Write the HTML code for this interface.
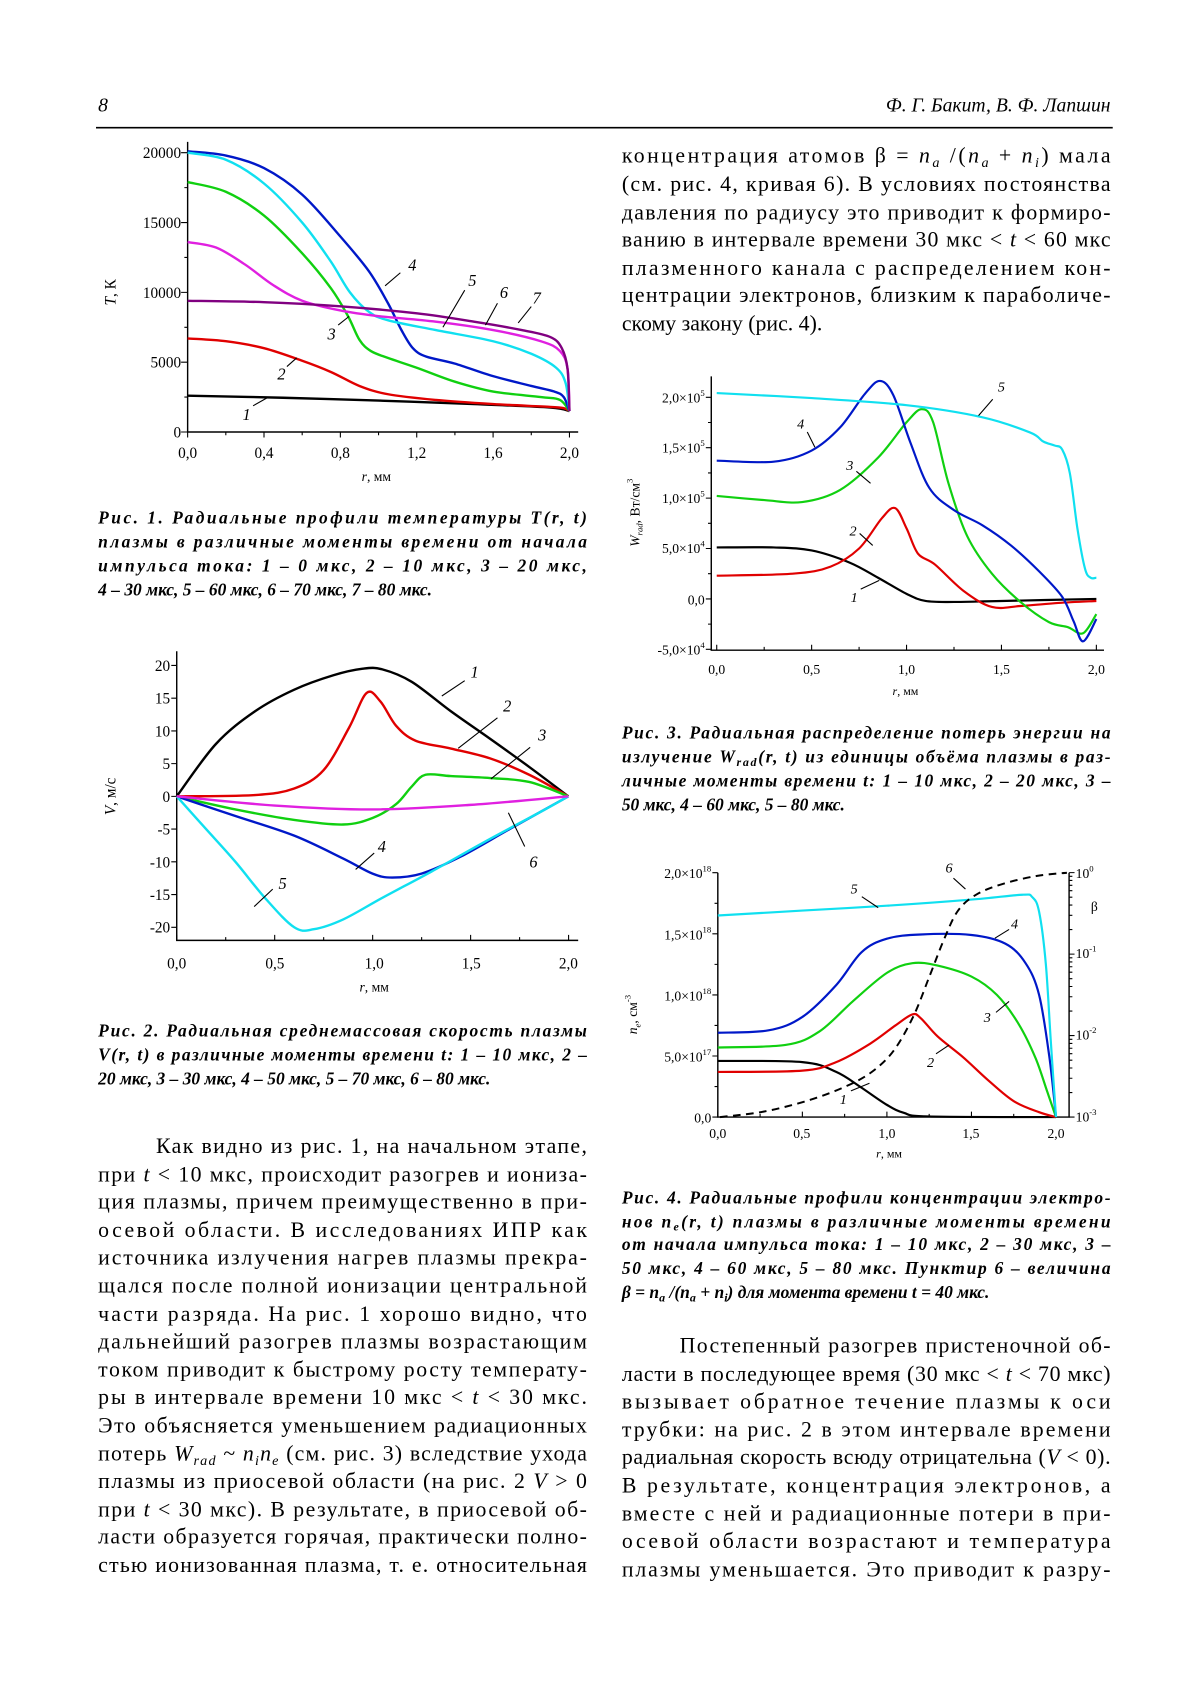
<!DOCTYPE html>
<html><head><meta charset="utf-8">
<style>
html,body{margin:0;padding:0;background:#fff;}
svg{display:block;}
text{font-family:"Liberation Serif","DejaVu Serif",serif;fill:#000;}
.b{font-size:20px;}
.c{font-size:16px;font-weight:bold;font-style:italic;}
.t{font-size:14px;}
.s{font-size:12.5px;}
.n{font-size:15px;font-style:italic;}
.ax{stroke:#000;stroke-width:1.3;fill:none;}
.ld{stroke:#000;stroke-width:1;fill:none;}
</style></head>
<body>
<svg id="pg" width="1200" height="1698" viewBox="0 0 1100 1556.5" xmlns="http://www.w3.org/2000/svg">
<text x="90" y="102" class="b" style="font-style:italic;font-size:18px">8</text>
<text x="1018" y="102" class="b" text-anchor="end" style="font-style:italic;font-size:18px">Ф. Г. Бакит, В. Ф. Лапшин</text>
<line x1="88" y1="117" x2="1020" y2="117" stroke="#000" stroke-width="1.5"/>

<g class="b">
<text x="570" y="149" textLength="448" lengthAdjust="spacing">концентрация атомов β = <tspan font-style="italic">n</tspan><tspan font-style="italic" font-size="13" dy="4">a</tspan><tspan dy="-4"> /(</tspan><tspan font-style="italic">n</tspan><tspan font-style="italic" font-size="13" dy="4">a</tspan><tspan dy="-4"> + </tspan><tspan font-style="italic">n</tspan><tspan font-style="italic" font-size="13" dy="4">i</tspan><tspan dy="-4">) мала</tspan></text>
<text x="570" y="175" textLength="448" lengthAdjust="spacing">(см. рис. 4, кривая 6). В условиях постоянства</text>
<text x="570" y="201" textLength="448" lengthAdjust="spacing">давления по радиусу это приводит к формиро-</text>
<text x="570" y="226" textLength="448" lengthAdjust="spacing">ванию в интервале времени 30 мкс &lt; <tspan font-style="italic">t</tspan> &lt; 60 мкс</text>
<text x="570" y="252" textLength="448" lengthAdjust="spacing">плазменного канала с распределением кон-</text>
<text x="570" y="277" textLength="448" lengthAdjust="spacing">центрации электронов, близким к параболиче-</text>
<text x="570" y="303">скому закону (рис. 4).</text>
</g>

<g class="b">
<text x="143" y="1057" textLength="395" lengthAdjust="spacing">Как видно из рис. 1, на начальном этапе,</text>
<text x="90" y="1083" textLength="448" lengthAdjust="spacing">при <tspan font-style="italic">t</tspan> &lt; 10 мкс, происходит разогрев и иониза-</text>
<text x="90" y="1108" textLength="448" lengthAdjust="spacing">ция плазмы, причем преимущественно в при-</text>
<text x="90" y="1134" textLength="448" lengthAdjust="spacing">осевой области. В исследованиях ИПР как</text>
<text x="90" y="1159" textLength="448" lengthAdjust="spacing">источника излучения нагрев плазмы прекра-</text>
<text x="90" y="1185" textLength="448" lengthAdjust="spacing">щался после полной ионизации центральной</text>
<text x="90" y="1211" textLength="448" lengthAdjust="spacing">части разряда. На рис. 1 хорошо видно, что</text>
<text x="90" y="1236" textLength="448" lengthAdjust="spacing">дальнейший разогрев плазмы возрастающим</text>
<text x="90" y="1262" textLength="448" lengthAdjust="spacing">током приводит к быстрому росту температу-</text>
<text x="90" y="1287" textLength="448" lengthAdjust="spacing">ры в интервале времени 10 мкс &lt; <tspan font-style="italic">t</tspan> &lt; 30 мкс.</text>
<text x="90" y="1313" textLength="448" lengthAdjust="spacing">Это объясняется уменьшением радиационных</text>
<text x="90" y="1339" textLength="448" lengthAdjust="spacing">потерь <tspan font-style="italic">W</tspan><tspan font-style="italic" font-size="13" dy="4">rad</tspan><tspan dy="-4"> ~ </tspan><tspan font-style="italic">n</tspan><tspan font-style="italic" font-size="13" dy="4">i</tspan><tspan font-style="italic" dy="-4">n</tspan><tspan font-style="italic" font-size="13" dy="4">e</tspan><tspan dy="-4"> (см. рис. 3) вследствие ухода</tspan></text>
<text x="90" y="1364" textLength="448" lengthAdjust="spacing">плазмы из приосевой области (на рис. 2 <tspan font-style="italic">V</tspan> &gt; 0</text>
<text x="90" y="1390" textLength="448" lengthAdjust="spacing">при <tspan font-style="italic">t</tspan> &lt; 30 мкс). В результате, в приосевой об-</text>
<text x="90" y="1415" textLength="448" lengthAdjust="spacing">ласти образуется горячая, практически полно-</text>
<text x="90" y="1441" textLength="448" lengthAdjust="spacing">стью ионизованная плазма, т. е. относительная</text>
</g>

<g class="b">
<text x="623" y="1240" textLength="395" lengthAdjust="spacing">Постепенный разогрев пристеночной об-</text>
<text x="570" y="1266" textLength="448" lengthAdjust="spacing">ласти в последующее время (30 мкс &lt; <tspan font-style="italic">t</tspan> &lt; 70 мкс)</text>
<text x="570" y="1291" textLength="448" lengthAdjust="spacing">вызывает обратное течение плазмы к оси</text>
<text x="570" y="1317" textLength="448" lengthAdjust="spacing">трубки: на рис. 2 в этом интервале времени</text>
<text x="570" y="1342" textLength="448" lengthAdjust="spacing">радиальная скорость всюду отрицательна (<tspan font-style="italic">V</tspan> &lt; 0).</text>
<text x="570" y="1368" textLength="448" lengthAdjust="spacing">В результате, концентрация электронов, а</text>
<text x="570" y="1394" textLength="448" lengthAdjust="spacing">вместе с ней и радиационные потери в при-</text>
<text x="570" y="1419" textLength="448" lengthAdjust="spacing">осевой области возрастают и температура</text>
<text x="570" y="1445" textLength="448" lengthAdjust="spacing">плазмы уменьшается. Это приводит к разру-</text>
</g>

<g class="c">
<text x="90" y="480" textLength="448" lengthAdjust="spacing">Рис. 1. Радиальные профили температуры T(r, t)</text>
<text x="90" y="502" textLength="448" lengthAdjust="spacing">плазмы в различные моменты времени от начала</text>
<text x="90" y="524" textLength="448" lengthAdjust="spacing">импульса тока: 1 – 0 мкс, 2 – 10 мкс, 3 – 20 мкс,</text>
<text x="90" y="546">4 – 30 мкс, 5 – 60 мкс, 6 – 70 мкс, 7 – 80 мкс.</text>

<text x="90" y="950" textLength="448" lengthAdjust="spacing">Рис. 2. Радиальная среднемассовая скорость плазмы</text>
<text x="90" y="972" textLength="448" lengthAdjust="spacing">V(r, t) в различные моменты времени t: 1 – 10 мкс, 2 –</text>
<text x="90" y="994">20 мкс, 3 – 30 мкс, 4 – 50 мкс, 5 – 70 мкс, 6 – 80 мкс.</text>

<text x="570" y="677" textLength="448" lengthAdjust="spacing">Рис. 3. Радиальная распределение потерь энергии на</text>
<text x="570" y="699" textLength="448" lengthAdjust="spacing">излучение W<tspan font-size="11" dy="3">rad</tspan><tspan dy="-3">(r, t) из единицы объёма плазмы в раз-</tspan></text>
<text x="570" y="721" textLength="448" lengthAdjust="spacing">личные моменты времени t: 1 – 10 мкс, 2 – 20 мкс, 3 –</text>
<text x="570" y="743">50 мкс, 4 – 60 мкс, 5 – 80 мкс.</text>

<text x="570" y="1103" textLength="448" lengthAdjust="spacing">Рис. 4. Радиальные профили концентрации электро-</text>
<text x="570" y="1125" textLength="448" lengthAdjust="spacing">нов n<tspan font-size="11" dy="3">e</tspan><tspan dy="-3">(r, t) плазмы в различные моменты времени</tspan></text>
<text x="570" y="1146" textLength="448" lengthAdjust="spacing">от начала импульса тока: 1 – 10 мкс, 2 – 30 мкс, 3 –</text>
<text x="570" y="1168" textLength="448" lengthAdjust="spacing">50 мкс, 4 – 60 мкс, 5 – 80 мкс. Пунктир 6 – величина</text>
<text x="570" y="1190">β = n<tspan font-size="11" dy="3">a</tspan><tspan dy="-3"> /(n</tspan><tspan font-size="11" dy="3">a</tspan><tspan dy="-3"> + n</tspan><tspan font-size="11" dy="3">i</tspan><tspan dy="-3">) для момента времени t = 40 мкс.</tspan></text>
</g>

<!-- FIG 1 -->
<path class="ax" d="M172,130 V396 H530"/>
<g class="t" text-anchor="end">
<text x="166" y="145">20000</text><text x="166" y="209">15000</text><text x="166" y="273">10000</text><text x="166" y="337">5000</text><text x="166" y="401">0</text>
</g>
<g class="t" text-anchor="middle">
<text x="172" y="420">0,0</text><text x="242" y="420">0,4</text><text x="312" y="420">0,8</text><text x="382" y="420">1,2</text><text x="452" y="420">1,6</text><text x="522" y="420">2,0</text>
<text x="345" y="441" class="s"><tspan font-style="italic">r</tspan>, мм</text>
</g>
<text transform="translate(106,268) rotate(-90)" class="t" text-anchor="middle"><tspan font-style="italic">T</tspan>, К</text>
<g id="f1t"></g>
<g id="f1c" fill="none" stroke-width="2.2"></g>
<g class="n" text-anchor="middle">
<text x="226" y="385">1</text><text x="258" y="348">2</text><text x="304" y="311">3</text><text x="378" y="248">4</text><text x="433" y="262">5</text><text x="462" y="273">6</text><text x="492" y="278">7</text>
</g>
<path class="ld" d="M232,372 L246,364 M263,336 L272,328 M310,298 L320,290 M353,262 L367,250 M406,300 L426,266 M445,298 L456,278 M475,296 L487,281"/>

<!-- FIG 2 -->
<path class="ax" d="M162,597 V862 H530"/>
<g class="t" text-anchor="end">
<text x="156" y="615">20</text><text x="156" y="645">15</text><text x="156" y="675">10</text><text x="156" y="705">5</text><text x="156" y="735">0</text><text x="156" y="765">-5</text><text x="156" y="795">-10</text><text x="156" y="825">-15</text><text x="156" y="855">-20</text>
</g>
<g class="t" text-anchor="middle">
<text x="162" y="888">0,0</text><text x="252" y="888">0,5</text><text x="343" y="888">1,0</text><text x="432" y="888">1,5</text><text x="521" y="888">2,0</text>
<text x="343" y="909" class="s"><tspan font-style="italic">r</tspan>, мм</text>
</g>
<text transform="translate(106,730) rotate(-90)" class="t" text-anchor="middle"><tspan font-style="italic">V</tspan>, м/с</text>
<g id="f2t"></g>
<g id="f2c" fill="none" stroke-width="2.2"></g>
<g class="n" text-anchor="middle">
<text x="435" y="621">1</text><text x="465" y="652">2</text><text x="497" y="679">3</text><text x="350" y="781">4</text><text x="259" y="815">5</text><text x="489" y="795">6</text>
</g>
<path class="ld" d="M405,638 L426,624 M420,686 L456,658 M450,714 L486,685 M326,797 L343,782 M233,831 L250,815 M466,745 L481,776"/>

<!-- FIG 3 -->
<path class="ax" d="M652,345 V596 H1012"/>
<g class="s" text-anchor="end">
<text x="646" y="369">2,0×10<tspan font-size="8" dy="-6">5</tspan></text>
<text x="646" y="415">1,5×10<tspan font-size="8" dy="-6">5</tspan></text>
<text x="646" y="461">1,0×10<tspan font-size="8" dy="-6">5</tspan></text>
<text x="646" y="507">5,0×10<tspan font-size="8" dy="-6">4</tspan></text>
<text x="646" y="554">0,0</text>
<text x="646" y="600">-5,0×10<tspan font-size="8" dy="-6">4</tspan></text>
</g>
<g class="s" text-anchor="middle">
<text x="657" y="618">0,0</text><text x="744" y="618">0,5</text><text x="831" y="618">1,0</text><text x="918" y="618">1,5</text><text x="1005" y="618">2,0</text>
<text x="830" y="637" style="font-size:11px"><tspan font-style="italic">r</tspan>, мм</text>
</g>
<text transform="translate(586,470) rotate(-90)" class="s" text-anchor="middle"><tspan font-style="italic">W</tspan><tspan font-style="italic" font-size="8" dy="3">rad</tspan><tspan dy="-3">, Вт/см</tspan><tspan font-size="8" dy="-6">3</tspan></text>
<g id="f3t"></g>
<g id="f3c" fill="none" stroke-width="2"></g>
<g class="n" text-anchor="middle" style="font-size:13px">
<text x="783" y="552">1</text><text x="782" y="491">2</text><text x="779" y="431">3</text><text x="734" y="393">4</text><text x="918" y="359">5</text>
</g>
<path class="ld" d="M789,540 L806,532 M788,489 L800,500 M785,432 L798,443 M740,396 L747,410 M910,366 L897,381"/>

<!-- FIG 4 -->
<path class="ax" d="M658,800 V1024 H980 V800"/>
<g class="s" text-anchor="end">
<text x="652" y="805">2,0×10<tspan font-size="8" dy="-6">18</tspan></text>
<text x="652" y="861">1,5×10<tspan font-size="8" dy="-6">18</tspan></text>
<text x="652" y="917">1,0×10<tspan font-size="8" dy="-6">18</tspan></text>
<text x="652" y="973">5,0×10<tspan font-size="8" dy="-6">17</tspan></text>
<text x="652" y="1029">0,0</text>
</g>
<g class="s">
<text x="986" y="805">10<tspan font-size="8" dy="-6">0</tspan></text>
<text x="1000" y="835">β</text>
<text x="986" y="878">10<tspan font-size="8" dy="-6">-1</tspan></text>
<text x="986" y="953">10<tspan font-size="8" dy="-6">-2</tspan></text>
<text x="986" y="1028">10<tspan font-size="8" dy="-6">-3</tspan></text>
</g>
<g class="s" text-anchor="middle">
<text x="658" y="1043">0,0</text><text x="735" y="1043">0,5</text><text x="813" y="1043">1,0</text><text x="890" y="1043">1,5</text><text x="968" y="1043">2,0</text>
<text x="815" y="1061" style="font-size:11px"><tspan font-style="italic">r</tspan>, мм</text>
</g>
<text transform="translate(584,930) rotate(-90)" class="s" text-anchor="middle"><tspan font-style="italic">n</tspan><tspan font-style="italic" font-size="8" dy="3">e</tspan><tspan dy="-3">, см</tspan><tspan font-size="8" dy="-6">-3</tspan></text>
<g id="f4t"></g>
<g id="f4c" fill="none" stroke-width="2"></g>
<g class="n" text-anchor="middle" style="font-size:13px">
<text x="783" y="819">5</text><text x="930" y="851">4</text><text x="905" y="937">3</text><text x="853" y="978">2</text><text x="773" y="1012">1</text><text x="870" y="800">6</text>
</g>
<path class="ld" d="M790,822 L805,832 M925,852 L912,860 M913,928 L925,918 M858,966 L870,958 M780,1000 L797,993 M874,805 L885,815"/>
</svg>
<script>
(function(){
var NS="http://www.w3.org/2000/svg";
function smooth(p){
 var d="M"+p[0][0].toFixed(1)+","+p[0][1].toFixed(1);
 for(var i=0;i<p.length-1;i++){
  var p0=p[i-1]||p[i],p1=p[i],p2=p[i+1],p3=p[i+2]||p2;
  var c1=[p1[0]+(p2[0]-p0[0])/6,p1[1]+(p2[1]-p0[1])/6];
  var c2=[p2[0]-(p3[0]-p1[0])/6,p2[1]-(p3[1]-p1[1])/6];
  d+="C"+c1[0].toFixed(1)+","+c1[1].toFixed(1)+" "+c2[0].toFixed(1)+","+c2[1].toFixed(1)+" "+p2[0].toFixed(1)+","+p2[1].toFixed(1);
 }
 return d;
}
function add(g,d,col,dash){
 var e=document.createElementNS(NS,"path");
 e.setAttribute("d",d);e.setAttribute("stroke",col);
 if(dash){e.setAttribute("stroke-dasharray","7,5");e.setAttribute("stroke-width","1.8");}
 document.getElementById(g).appendChild(e);
}
function plot(g,X,Y,data,col,dash){
 add(g,smooth(data.map(function(a){return [X(a[0]),Y(a[1])];})),col,dash);
}
function ticks(g,s){var e=document.createElementNS(NS,"path");e.setAttribute("d",s);e.setAttribute("stroke","#000");e.setAttribute("stroke-width","1");document.getElementById(g).appendChild(e);}
var X1=function(r){return 172+r*175},Y1=function(v){return 396-v*12.8};
var t="";for(var i=0;i<=8;i++){var y=396-i*32;t+="M"+(i%2?169:166)+","+y+"H172";}
for(i=0;i<=10;i++){var x=172+i*35;t+="M"+x+",396V"+(i%2?399:401);}ticks("f1t",t);
plot("f1c",X1,Y1,[[0,2.6],[0.5,2.45],[1,2.25],[1.5,2.0],[1.9,1.75],[2,1.5]],"#000");
plot("f1c",X1,Y1,[[0,6.7],[0.2,6.5],[0.4,6.0],[0.6,5.1],[0.75,4.3],[0.9,3.3],[1.05,2.7],[1.3,2.3],[1.6,2.0],[1.9,1.8],[1.97,1.7],[2,1.5]],"#e00000");
plot("f1c",X1,Y1,[[0,17.9],[0.2,17.2],[0.4,15.5],[0.6,12.8],[0.75,10.3],[0.84,8.3],[0.9,6.6],[0.96,5.8],[1.05,5.3],[1.2,4.6],[1.4,3.6],[1.6,2.9],[1.85,2.5],[1.95,2.3],[2,1.5]],"#10d010");
plot("f1c",X1,Y1,[[0,20.1],[0.2,19.8],[0.4,18.9],[0.6,17.0],[0.8,14.0],[0.95,11.5],[1.05,9.2],[1.12,7.3],[1.18,6.0],[1.25,5.4],[1.4,4.9],[1.6,4.0],[1.8,3.3],[1.92,2.9],[1.97,2.5],[2,1.5]],"#0018c8");
plot("f1c",X1,Y1,[[0,20.0],[0.2,19.5],[0.4,17.8],[0.6,15.0],[0.75,12.2],[0.85,10.0],[0.95,8.6],[1.05,8.0],[1.3,7.3],[1.6,6.5],[1.8,5.6],[1.93,4.6],[1.98,3.5],[2,1.5]],"#10e0f0");
plot("f1c",X1,Y1,[[0,13.6],[0.15,13.2],[0.3,12.0],[0.45,10.5],[0.6,9.4],[0.8,8.7],[1.0,8.3],[1.3,7.9],[1.6,7.3],[1.85,6.5],[1.95,5.8],[1.99,4.5],[2,1.5]],"#e020e0");
plot("f1c",X1,Y1,[[0,9.4],[0.4,9.3],[0.8,9.0],[1.2,8.5],[1.5,7.9],[1.75,7.3],[1.9,6.8],[1.96,6.0],[1.99,4.5],[2,1.5]],"#800080");
var X2=function(r){return 162+r*179.5},Y2=function(v){return 730-v*6};
t="";for(i=-4;i<=4;i++){var y=730-i*30;t+="M157,"+y+"H162";}
for(i=0;i<=8;i++){var x=162+i*44.9;t+="M"+x+",862V"+(i%2?859:857);}ticks("f2t",t);
plot("f2c",X2,Y2,[[0,0],[0.2,8],[0.4,13],[0.6,16.3],[0.8,18.5],[0.95,19.5],[1.05,19.4],[1.2,17.5],[1.4,13],[1.6,8.8],[1.8,4.5],[2,0]],"#000");
plot("f2c",X2,Y2,[[0,0],[0.4,0.2],[0.6,1.2],[0.75,4],[0.88,10.5],[0.97,15.8],[1.04,14.5],[1.12,10.8],[1.22,8.5],[1.4,7.3],[1.6,5.8],[1.8,3.3],[2,0]],"#e00000");
plot("f2c",X2,Y2,[[0,0],[0.3,-2],[0.6,-3.6],[0.85,-4.3],[1.0,-3.3],[1.12,-1.2],[1.2,1.5],[1.27,3.3],[1.4,3.1],[1.6,2.8],[1.8,2.2],[2,0]],"#10d010");
plot("f2c",X2,Y2,[[0,0],[0.3,-3],[0.6,-6],[0.85,-9.5],[1.0,-11.8],[1.1,-12.4],[1.25,-11.8],[1.45,-9.2],[1.7,-5],[2,0]],"#0018c8");
plot("f2c",X2,Y2,[[0,0],[0.15,-5],[0.3,-10],[0.45,-15.5],[0.6,-20],[0.7,-20.3],[0.85,-18.8],[1.05,-15.5],[1.3,-11.5],[1.6,-6.5],[1.85,-2.5],[2,0]],"#10e0f0");
plot("f2c",X2,Y2,[[0,0],[0.5,-1.4],[1.0,-2],[1.5,-1.3],[2,0]],"#e020e0");
var X3=function(r){return 657+r*174},Y3=function(v){return 549-v*9.25};
t="";for(i=-2;i<=8;i++){var y=549-i*23.1;t+="M"+(i%2?649:647)+","+y+"H652";}
for(i=0;i<=8;i++){var x=657+i*43.5;t+="M"+x+",596V"+(i%2?593:591);}ticks("f3t",t);
plot("f3c",X3,Y3,[[0,5.1],[0.3,5.1],[0.5,4.8],[0.7,3.6],[0.85,2.1],[1.0,0.5],[1.1,-0.2],[1.25,-0.3],[1.5,-0.2],[2,0]],"#000");
plot("f3c",X3,Y3,[[0,2.3],[0.4,2.5],[0.6,3.2],[0.75,5.0],[0.87,8.0],[0.94,9.0],[1.0,7.0],[1.06,4.5],[1.15,3.4],[1.3,0.8],[1.45,-0.8],[1.6,-0.7],[1.8,-0.4],[2,-0.2]],"#e00000");
plot("f3c",X3,Y3,[[0,10.2],[0.25,9.8],[0.45,9.6],[0.65,10.8],[0.85,14.0],[1.0,17.5],[1.08,18.8],[1.14,17.5],[1.22,11.5],[1.32,6.2],[1.45,2.5],[1.6,-0.3],[1.75,-2.3],[1.85,-2.8],[1.93,-3.4],[2,-1.5]],"#10d010");
plot("f3c",X3,Y3,[[0,13.7],[0.3,13.6],[0.5,14.7],[0.65,17.0],[0.78,20.3],[0.86,21.6],[0.93,20.2],[1.02,15.5],[1.12,11.0],[1.25,8.8],[1.4,7.3],[1.55,5.3],[1.7,2.7],[1.82,0.2],[1.88,-2.2],[1.93,-4.2],[2,-2]],"#0018c8");
plot("f3c",X3,Y3,[[0,20.4],[0.5,19.9],[1.0,19.2],[1.4,18.0],[1.65,16.5],[1.72,15.6],[1.78,15.2],[1.82,14.8],[1.86,12.5],[1.9,7],[1.94,3],[1.97,2.1],[2,2.1]],"#10e0f0");
var X4=function(r){return 658+r*155},Y4=function(v){return 1024-v*11.2};
t="";for(i=0;i<=8;i++){var y=1024-i*28;t+="M"+(i%2?655:653)+","+y+"H658";}
for(i=0;i<=8;i++){var x=658+i*38.75;t+="M"+x+",1024V"+(i%2?1021:1019);}
for(var dcd=0;dcd<3;dcd++){for(var k=1;k<=10;k++){var y=1024-dcd*74.7-Math.log10(k)*74.7;t+="M980,"+y.toFixed(1)+"H"+(k==1||k==10?985:983);}}
ticks("f4t",t);
plot("f4c",X4,Y4,[[0,4.6],[0.5,4.5],[0.7,3.7],[0.85,2.4],[1.0,1.0],[1.1,0.35],[1.25,0.05],[2,0]],"#000");
plot("f4c",X4,Y4,[[0,3.7],[0.5,3.8],[0.7,4.5],[0.9,6.0],[1.05,7.5],[1.15,8.4],[1.2,8.1],[1.3,6.6],[1.45,4.9],[1.6,3.0],[1.75,1.3],[1.9,0.4],[2,0]],"#e00000");
plot("f4c",X4,Y4,[[0,5.7],[0.4,5.9],[0.6,7.0],[0.8,9.5],[1.0,11.8],[1.15,12.6],[1.3,12.4],[1.5,11.5],[1.65,10.0],[1.78,7.6],[1.88,4.8],[1.95,2.0],[2,0]],"#10d010");
plot("f4c",X4,Y4,[[0,6.9],[0.3,7.1],[0.5,8.2],[0.7,10.8],[0.85,13.5],[1.0,14.6],[1.2,14.95],[1.5,14.9],[1.7,14.2],[1.82,12.6],[1.9,10.0],[1.96,5.0],[2,0]],"#0018c8");
plot("f4c",X4,Y4,[[0,16.5],[0.5,16.9],[1.0,17.3],[1.5,17.8],[1.8,18.2],[1.86,18.0],[1.9,16.8],[1.94,12.5],[1.97,6],[2,0]],"#10e0f0");
add("f4c",smooth([[660,1024],[700,1019],[740,1009],[775,996],[800,982],[820,962],[838,930],[852,895],[865,862],[878,835],[895,820],[920,810],[950,803],[978,800]]),"#000",true);
})();
</script>
</body></html>
